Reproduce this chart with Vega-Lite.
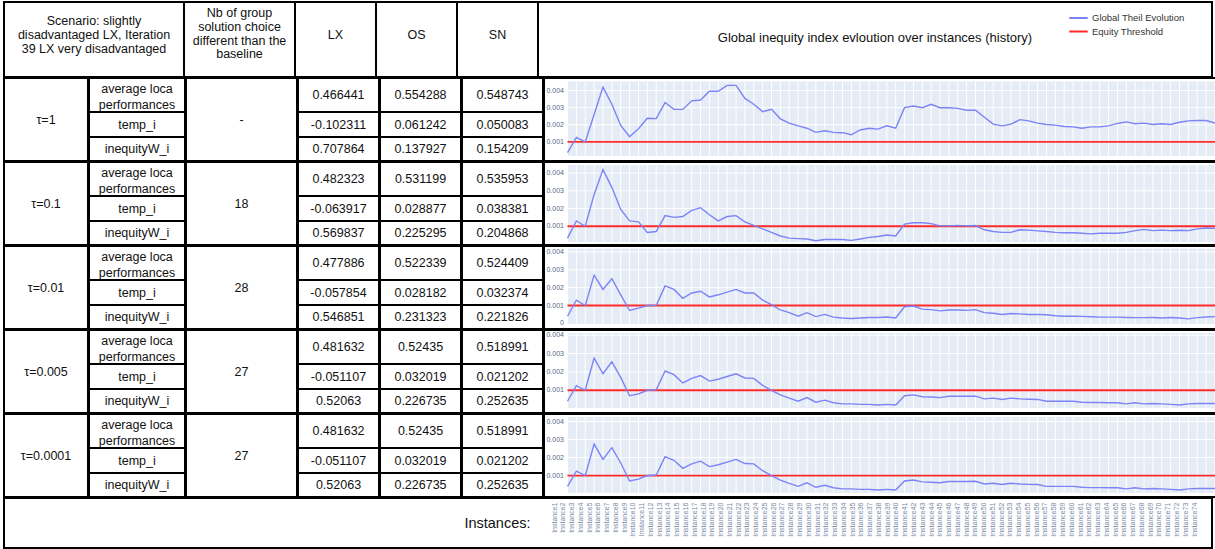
{
"$schema":"https://vega.github.io/schema/vega-lite/v6.json",
"padding":{"left":3,"top":1,"right":0,"bottom":0},
"spacing":-2,
"bounds":"full",
"config":{"view":{"stroke":"#000000","strokeWidth":2},"text":{"font":"Liberation Sans","fontSize":12.5,"color":"#111111"},"axis":{"labelFont":"Liberation Sans"}},
"datasets":{
"s":[
{"i":1,"a":0.00038,"b":0.00033,"c":0.0004,"d":0.0004,"e":0.0004},
{"i":2,"a":0.00127,"b":0.0013,"c":0.0013,"d":0.00125,"e":0.00125},
{"i":3,"a":0.001,"b":0.001,"c":0.001,"d":0.001,"e":0.001},
{"i":4,"a":0.0026,"b":0.0028,"c":0.0027,"d":0.00275,"e":0.00275},
{"i":5,"a":0.0042,"b":0.0042,"c":0.0019,"d":0.0019,"e":0.0019},
{"i":6,"a":0.0032,"b":0.0032,"c":0.0025,"d":0.00255,"e":0.00255},
{"i":7,"a":0.00196,"b":0.00195,"c":0.0016,"d":0.0017,"e":0.0017},
{"i":8,"a":0.0013,"b":0.0013,"c":0.00072,"d":0.0007,"e":0.0007},
{"i":9,"a":0.00177,"b":0.00125,"c":0.00085,"d":0.0008,"e":0.0008},
{"i":10,"a":0.00238,"b":0.00065,"c":0.001,"d":0.001,"e":0.001},
{"i":11,"a":0.00236,"b":0.0007,"c":0.001,"d":0.00103,"e":0.00103},
{"i":12,"a":0.0033,"b":0.0016,"c":0.0021,"d":0.00205,"e":0.00205},
{"i":13,"a":0.0029,"b":0.0015,"c":0.0019,"d":0.00185,"e":0.00185},
{"i":14,"a":0.0029,"b":0.00155,"c":0.0014,"d":0.0014,"e":0.0014},
{"i":15,"a":0.0034,"b":0.0019,"c":0.0017,"d":0.00165,"e":0.00165},
{"i":16,"a":0.00345,"b":0.00205,"c":0.0018,"d":0.0018,"e":0.0018},
{"i":17,"a":0.00396,"b":0.00165,"c":0.00148,"d":0.0015,"e":0.0015},
{"i":18,"a":0.00396,"b":0.0013,"c":0.0016,"d":0.0016,"e":0.0016},
{"i":19,"a":0.0043,"b":0.00155,"c":0.00175,"d":0.00175,"e":0.00175},
{"i":20,"a":0.0043,"b":0.0016,"c":0.0019,"d":0.0019,"e":0.0019},
{"i":21,"a":0.00354,"b":0.00125,"c":0.0017,"d":0.00167,"e":0.00167},
{"i":22,"a":0.0032,"b":0.00105,"c":0.0017,"d":0.00165,"e":0.00165},
{"i":23,"a":0.00277,"b":0.00085,"c":0.0013,"d":0.00127,"e":0.00127},
{"i":24,"a":0.0029,"b":0.00065,"c":0.00105,"d":0.001,"e":0.001},
{"i":25,"a":0.00235,"b":0.00045,"c":0.00075,"d":0.00075,"e":0.00075},
{"i":26,"a":0.0021,"b":0.00033,"c":0.0006,"d":0.00057,"e":0.00057},
{"i":27,"a":0.00194,"b":0.0003,"c":0.0004,"d":0.0004,"e":0.0004},
{"i":28,"a":0.0018,"b":0.00028,"c":0.0006,"d":0.0006,"e":0.0006},
{"i":29,"a":0.00156,"b":0.00018,"c":0.00038,"d":0.00035,"e":0.00035},
{"i":30,"a":0.00165,"b":0.00025,"c":0.0005,"d":0.00046,"e":0.00046},
{"i":31,"a":0.00156,"b":0.00025,"c":0.00035,"d":0.00032,"e":0.00032},
{"i":32,"a":0.00154,"b":0.00025,"c":0.0003,"d":0.00026,"e":0.00026},
{"i":33,"a":0.00142,"b":0.0002,"c":0.00027,"d":0.00026,"e":0.00026},
{"i":34,"a":0.0017,"b":0.00028,"c":0.0003,"d":0.00023,"e":0.00023},
{"i":35,"a":0.0018,"b":0.00037,"c":0.00033,"d":0.00023,"e":0.00023},
{"i":36,"a":0.00175,"b":0.00042,"c":0.00033,"d":0.0002,"e":0.0002},
{"i":37,"a":0.00194,"b":0.0005,"c":0.00036,"d":0.00023,"e":0.00023},
{"i":38,"a":0.0018,"b":0.00045,"c":0.0003,"d":0.0002,"e":0.0002},
{"i":39,"a":0.003,"b":0.00112,"c":0.00093,"d":0.0007,"e":0.0007},
{"i":40,"a":0.0031,"b":0.0012,"c":0.00097,"d":0.00075,"e":0.00075},
{"i":41,"a":0.003,"b":0.0012,"c":0.0008,"d":0.00065,"e":0.00065},
{"i":42,"a":0.0032,"b":0.00115,"c":0.00077,"d":0.00063,"e":0.00063},
{"i":43,"a":0.003,"b":0.00102,"c":0.0007,"d":0.0006,"e":0.0006},
{"i":44,"a":0.003,"b":0.00102,"c":0.00075,"d":0.00067,"e":0.00067},
{"i":45,"a":0.00296,"b":0.00105,"c":0.00075,"d":0.00067,"e":0.00067},
{"i":46,"a":0.00285,"b":0.00102,"c":0.00073,"d":0.00067,"e":0.00067},
{"i":47,"a":0.00285,"b":0.00104,"c":0.00077,"d":0.00068,"e":0.00068},
{"i":48,"a":0.00244,"b":0.0008,"c":0.0006,"d":0.00053,"e":0.00053},
{"i":49,"a":0.00204,"b":0.0007,"c":0.00057,"d":0.00057,"e":0.00057},
{"i":50,"a":0.00194,"b":0.00065,"c":0.0005,"d":0.0005,"e":0.0005},
{"i":51,"a":0.00204,"b":0.00065,"c":0.00055,"d":0.00057,"e":0.00057},
{"i":52,"a":0.0023,"b":0.0008,"c":0.00053,"d":0.00053,"e":0.00053},
{"i":53,"a":0.00223,"b":0.00078,"c":0.0005,"d":0.00051,"e":0.00051},
{"i":54,"a":0.0021,"b":0.00074,"c":0.0005,"d":0.0005,"e":0.0005},
{"i":55,"a":0.00202,"b":0.0007,"c":0.00048,"d":0.0004,"e":0.0004},
{"i":56,"a":0.00198,"b":0.00065,"c":0.00043,"d":0.0004,"e":0.0004},
{"i":57,"a":0.0019,"b":0.00063,"c":0.0004,"d":0.0004,"e":0.0004},
{"i":58,"a":0.00188,"b":0.00063,"c":0.0004,"d":0.0004,"e":0.0004},
{"i":59,"a":0.0018,"b":0.0006,"c":0.00039,"d":0.00035,"e":0.00035},
{"i":60,"a":0.00188,"b":0.00057,"c":0.00037,"d":0.00033,"e":0.00033},
{"i":61,"a":0.00188,"b":0.0006,"c":0.00035,"d":0.00033,"e":0.00033},
{"i":62,"a":0.00194,"b":0.0006,"c":0.00035,"d":0.00032,"e":0.00032},
{"i":63,"a":0.00208,"b":0.0006,"c":0.00035,"d":0.00032,"e":0.00032},
{"i":64,"a":0.00217,"b":0.00065,"c":0.00033,"d":0.00026,"e":0.00026},
{"i":65,"a":0.00206,"b":0.00075,"c":0.00032,"d":0.00032,"e":0.00032},
{"i":66,"a":0.0021,"b":0.00082,"c":0.00032,"d":0.00026,"e":0.00026},
{"i":67,"a":0.00202,"b":0.00075,"c":0.00033,"d":0.00028,"e":0.00028},
{"i":68,"a":0.00206,"b":0.00078,"c":0.0003,"d":0.00026,"e":0.00026},
{"i":69,"a":0.00202,"b":0.00075,"c":0.00033,"d":0.00023,"e":0.00023},
{"i":70,"a":0.00215,"b":0.00077,"c":0.0003,"d":0.0002,"e":0.0002},
{"i":71,"a":0.00223,"b":0.00075,"c":0.00025,"d":0.00026,"e":0.00026},
{"i":72,"a":0.00225,"b":0.00085,"c":0.00032,"d":0.00028,"e":0.00028},
{"i":73,"a":0.00225,"b":0.0009,"c":0.00036,"d":0.00028,"e":0.00028},
{"i":74,"a":0.0021,"b":0.00088,"c":0.00038,"d":0.00028,"e":0.00028}
],
"vals":[
{"g":1,"m":"a","c":"LX","v":"0.466441"},{"g":1,"m":"a","c":"OS","v":"0.554288"},{"g":1,"m":"a","c":"SN","v":"0.548743"},
{"g":1,"m":"t","c":"LX","v":"-0.102311"},{"g":1,"m":"t","c":"OS","v":"0.061242"},{"g":1,"m":"t","c":"SN","v":"0.050083"},
{"g":1,"m":"w","c":"LX","v":"0.707864"},{"g":1,"m":"w","c":"OS","v":"0.137927"},{"g":1,"m":"w","c":"SN","v":"0.154209"},
{"g":2,"m":"a","c":"LX","v":"0.482323"},{"g":2,"m":"a","c":"OS","v":"0.531199"},{"g":2,"m":"a","c":"SN","v":"0.535953"},
{"g":2,"m":"t","c":"LX","v":"-0.063917"},{"g":2,"m":"t","c":"OS","v":"0.028877"},{"g":2,"m":"t","c":"SN","v":"0.038381"},
{"g":2,"m":"w","c":"LX","v":"0.569837"},{"g":2,"m":"w","c":"OS","v":"0.225295"},{"g":2,"m":"w","c":"SN","v":"0.204868"},
{"g":3,"m":"a","c":"LX","v":"0.477886"},{"g":3,"m":"a","c":"OS","v":"0.522339"},{"g":3,"m":"a","c":"SN","v":"0.524409"},
{"g":3,"m":"t","c":"LX","v":"-0.057854"},{"g":3,"m":"t","c":"OS","v":"0.028182"},{"g":3,"m":"t","c":"SN","v":"0.032374"},
{"g":3,"m":"w","c":"LX","v":"0.546851"},{"g":3,"m":"w","c":"OS","v":"0.231323"},{"g":3,"m":"w","c":"SN","v":"0.221826"},
{"g":4,"m":"a","c":"LX","v":"0.481632"},{"g":4,"m":"a","c":"OS","v":"0.52435"},{"g":4,"m":"a","c":"SN","v":"0.518991"},
{"g":4,"m":"t","c":"LX","v":"-0.051107"},{"g":4,"m":"t","c":"OS","v":"0.032019"},{"g":4,"m":"t","c":"SN","v":"0.021202"},
{"g":4,"m":"w","c":"LX","v":"0.52063"},{"g":4,"m":"w","c":"OS","v":"0.226735"},{"g":4,"m":"w","c":"SN","v":"0.252635"},
{"g":5,"m":"a","c":"LX","v":"0.481632"},{"g":5,"m":"a","c":"OS","v":"0.52435"},{"g":5,"m":"a","c":"SN","v":"0.518991"},
{"g":5,"m":"t","c":"LX","v":"-0.051107"},{"g":5,"m":"t","c":"OS","v":"0.032019"},{"g":5,"m":"t","c":"SN","v":"0.021202"},
{"g":5,"m":"w","c":"LX","v":"0.52063"},{"g":5,"m":"w","c":"OS","v":"0.226735"},{"g":5,"m":"w","c":"SN","v":"0.252635"}
],
"yl":[{"g":0.001,"l":"0.001"},{"g":0.002,"l":"0.002"},{"g":0.003,"l":"0.003"},{"g":0.004,"l":"0.004"}],
"yl0":[{"g":0,"l":"0"},{"g":0.001,"l":"0.001"},{"g":0.002,"l":"0.002"},{"g":0.003,"l":"0.003"},{"g":0.004,"l":"0.004"}]
},
"vconcat":[
{"hconcat":[
{"width":180,"height":75,"view":{"stroke":"#000000","strokeWidth":2},"data":{"values":[{"t":["Scenario: slightly","disadvantaged LX, Iteration","39 LX very disadvantaged"]}]},"mark":{"type":"text","lineHeight":14,"dy":-18.5},"encoding":{"text":{"field":"t","type":"nominal"}}},
{"width":111,"height":75,"view":{"stroke":"#000000","strokeWidth":2},"data":{"values":[{"t":["Nb of group","solution choice","different than the","baseline"]}]},"mark":{"type":"text","lineHeight":13.7,"dy":-26.2},"encoding":{"text":{"field":"t","type":"nominal"}}},
{"width":81,"height":75,"view":{"stroke":"#000000","strokeWidth":2},"data":{"values":[{"t":"LX"}]},"mark":{"type":"text","dy":-4.5},"encoding":{"text":{"field":"t","type":"nominal"}}},
{"width":81,"height":75,"view":{"stroke":"#000000","strokeWidth":2},"data":{"values":[{"t":"OS"}]},"mark":{"type":"text","dy":-4.5},"encoding":{"text":{"field":"t","type":"nominal"}}},
{"width":81,"height":75,"view":{"stroke":"#000000","strokeWidth":2},"data":{"values":[{"t":"SN"}]},"mark":{"type":"text","dy":-4.5},"encoding":{"text":{"field":"t","type":"nominal"}}},
{"width":674,"height":75,"view":{"stroke":"#000000","strokeWidth":2},"data":{"values":[{"t":"Global inequity index evloution over instances (history)"}]},"mark":{"type":"text","fontSize":13,"dy":-2},"encoding":{"text":{"field":"t","type":"nominal"}}}
],"spacing":0,"bounds":"flush"},

{"hconcat":[
{"width":84,"height":83,"view":{"stroke":"#000000","strokeWidth":2},"data":{"values":[{"t":"τ=1"}]},"mark":"text","encoding":{"text":{"field":"t","type":"nominal"}}},
{"vconcat":[
{"width":96,"height":34,"view":{"stroke":"#000000","strokeWidth":2},"data":{"values":[{"t":["average loca","performances"]}]},"mark":{"type":"text","lineHeight":15.5,"dy":-5.7},"encoding":{"text":{"field":"t","type":"nominal"}}},
{"width":96,"height":25,"view":{"stroke":"#000000","strokeWidth":2},"data":{"values":[{"t":"temp_i"}]},"mark":"text","encoding":{"text":{"field":"t","type":"nominal"}}},
{"width":96,"height":24,"view":{"stroke":"#000000","strokeWidth":2},"data":{"values":[{"t":"inequityW_i"}]},"mark":"text","encoding":{"text":{"field":"t","type":"nominal"}}}
],"spacing":0,"bounds":"flush"},
{"width":111,"height":83,"view":{"stroke":"#000000","strokeWidth":2},"data":{"values":[{"t":"-"}]},"mark":"text","encoding":{"text":{"field":"t","type":"nominal"}}},
{"vconcat":[
{"width":81,"height":34,"view":{"stroke":"#000000","strokeWidth":2},"data":{"name":"vals"},"transform":[{"filter":"datum.g == 1 && datum.c == 'LX' && datum.m == 'a'"}],"mark":"text","encoding":{"text":{"field":"v","type":"nominal"}}},
{"width":81,"height":25,"view":{"stroke":"#000000","strokeWidth":2},"data":{"name":"vals"},"transform":[{"filter":"datum.g == 1 && datum.c == 'LX' && datum.m == 't'"}],"mark":"text","encoding":{"text":{"field":"v","type":"nominal"}}},
{"width":81,"height":24,"view":{"stroke":"#000000","strokeWidth":2},"data":{"name":"vals"},"transform":[{"filter":"datum.g == 1 && datum.c == 'LX' && datum.m == 'w'"}],"mark":"text","encoding":{"text":{"field":"v","type":"nominal"}}}
],"spacing":0,"bounds":"flush"},
{"vconcat":[
{"width":81,"height":34,"view":{"stroke":"#000000","strokeWidth":2},"data":{"name":"vals"},"transform":[{"filter":"datum.g == 1 && datum.c == 'OS' && datum.m == 'a'"}],"mark":"text","encoding":{"text":{"field":"v","type":"nominal"}}},
{"width":81,"height":25,"view":{"stroke":"#000000","strokeWidth":2},"data":{"name":"vals"},"transform":[{"filter":"datum.g == 1 && datum.c == 'OS' && datum.m == 't'"}],"mark":"text","encoding":{"text":{"field":"v","type":"nominal"}}},
{"width":81,"height":24,"view":{"stroke":"#000000","strokeWidth":2},"data":{"name":"vals"},"transform":[{"filter":"datum.g == 1 && datum.c == 'OS' && datum.m == 'w'"}],"mark":"text","encoding":{"text":{"field":"v","type":"nominal"}}}
],"spacing":0,"bounds":"flush"},
{"vconcat":[
{"width":81,"height":34,"view":{"stroke":"#000000","strokeWidth":2},"data":{"name":"vals"},"transform":[{"filter":"datum.g == 1 && datum.c == 'SN' && datum.m == 'a'"}],"mark":"text","encoding":{"text":{"field":"v","type":"nominal"}}},
{"width":81,"height":25,"view":{"stroke":"#000000","strokeWidth":2},"data":{"name":"vals"},"transform":[{"filter":"datum.g == 1 && datum.c == 'SN' && datum.m == 't'"}],"mark":"text","encoding":{"text":{"field":"v","type":"nominal"}}},
{"width":81,"height":24,"view":{"stroke":"#000000","strokeWidth":2},"data":{"name":"vals"},"transform":[{"filter":"datum.g == 1 && datum.c == 'SN' && datum.m == 'w'"}],"mark":"text","encoding":{"text":{"field":"v","type":"nominal"}}}
],"spacing":0,"bounds":"flush"},
{"width":674,"height":83,"view":{"stroke":"#000000","strokeWidth":2},"data":{"name":"s"},"layer":[
{"data":{"values":[{}]},"mark":{"type":"rect","color":"#e5ecf6"},"encoding":{"x":{"datum":1,"type":"quantitative","scale":{"domain":[-1.65,74.34],"nice":false,"zero":false},"axis":null},"x2":{"datum":74},"y":{"datum":0.00453,"type":"quantitative","scale":{"domain":[-0.000113,0.004733],"nice":false,"zero":false},"axis":null},"y2":{"datum":0.000175}}},
{"mark":{"type":"rule","color":"#ffffff","strokeWidth":1},"encoding":{"x":{"field":"i","type":"quantitative","axis":null},"y":{"datum":0.00453,"type":"quantitative","axis":null},"y2":{"datum":0.000175}}},
{"data":{"name":"yl"},"mark":{"type":"rule","color":"#ffffff","strokeWidth":1},"encoding":{"x":{"datum":1,"type":"quantitative","axis":null},"x2":{"datum":74},"y":{"field":"g","type":"quantitative","axis":null}}},
{"data":{"name":"yl"},"mark":{"type":"text","align":"right","baseline":"middle","fontSize":7,"color":"#53678a"},"encoding":{"x":{"datum":0.605,"type":"quantitative","axis":null},"y":{"field":"g","type":"quantitative","axis":null},"text":{"field":"l","type":"nominal"}}},
{"data":{"values":[{}]},"mark":{"type":"rule","strokeWidth":1.8},"encoding":{"x":{"datum":1,"type":"quantitative","axis":null},"x2":{"datum":74},"y":{"datum":0.001,"type":"quantitative","axis":null},"color":{"datum":"Equity Threshold","type":"nominal","scale":{"domain":["Global Theil Evolution","Equity Threshold"],"range":["#7b84f6","#ff2a2a"]},"legend":{"title":null,"orient":"none","legendX":1064,"legendY":9.5,"symbolType":"stroke","symbolSize":340,"symbolStrokeWidth":2,"clipHeight":13,"rowPadding":0.5,"labelFont":"Liberation Sans","labelFontSize":9.5,"labelColor":"#333333","labelOffset":3,"padding":0}}}},
{"mark":{"type":"line","strokeWidth":1.4},"encoding":{"x":{"field":"i","type":"quantitative","axis":null},"y":{"field":"a","type":"quantitative","axis":null},"color":{"datum":"Global Theil Evolution","type":"nominal","legend":{"title":null,"orient":"none","legendX":1064,"legendY":9.5,"symbolType":"stroke","symbolSize":340,"symbolStrokeWidth":2,"clipHeight":13,"rowPadding":0.5,"labelFont":"Liberation Sans","labelFontSize":9.5,"labelColor":"#333333","labelOffset":3,"padding":0}}}}
]}
],"spacing":-2,"bounds":"full"},

{"hconcat":[
{"width":84,"height":83,"view":{"stroke":"#000000","strokeWidth":2},"data":{"values":[{"t":"τ=0.1"}]},"mark":"text","encoding":{"text":{"field":"t","type":"nominal"}}},
{"vconcat":[
{"width":96,"height":34,"view":{"stroke":"#000000","strokeWidth":2},"data":{"values":[{"t":["average loca","performances"]}]},"mark":{"type":"text","lineHeight":15.5,"dy":-5.7},"encoding":{"text":{"field":"t","type":"nominal"}}},
{"width":96,"height":25,"view":{"stroke":"#000000","strokeWidth":2},"data":{"values":[{"t":"temp_i"}]},"mark":"text","encoding":{"text":{"field":"t","type":"nominal"}}},
{"width":96,"height":24,"view":{"stroke":"#000000","strokeWidth":2},"data":{"values":[{"t":"inequityW_i"}]},"mark":"text","encoding":{"text":{"field":"t","type":"nominal"}}}
],"spacing":0,"bounds":"flush"},
{"width":111,"height":83,"view":{"stroke":"#000000","strokeWidth":2},"data":{"values":[{"t":"18"}]},"mark":"text","encoding":{"text":{"field":"t","type":"nominal"}}},
{"vconcat":[
{"width":81,"height":34,"view":{"stroke":"#000000","strokeWidth":2},"data":{"name":"vals"},"transform":[{"filter":"datum.g == 2 && datum.c == 'LX' && datum.m == 'a'"}],"mark":"text","encoding":{"text":{"field":"v","type":"nominal"}}},
{"width":81,"height":25,"view":{"stroke":"#000000","strokeWidth":2},"data":{"name":"vals"},"transform":[{"filter":"datum.g == 2 && datum.c == 'LX' && datum.m == 't'"}],"mark":"text","encoding":{"text":{"field":"v","type":"nominal"}}},
{"width":81,"height":24,"view":{"stroke":"#000000","strokeWidth":2},"data":{"name":"vals"},"transform":[{"filter":"datum.g == 2 && datum.c == 'LX' && datum.m == 'w'"}],"mark":"text","encoding":{"text":{"field":"v","type":"nominal"}}}
],"spacing":0,"bounds":"flush"},
{"vconcat":[
{"width":81,"height":34,"view":{"stroke":"#000000","strokeWidth":2},"data":{"name":"vals"},"transform":[{"filter":"datum.g == 2 && datum.c == 'OS' && datum.m == 'a'"}],"mark":"text","encoding":{"text":{"field":"v","type":"nominal"}}},
{"width":81,"height":25,"view":{"stroke":"#000000","strokeWidth":2},"data":{"name":"vals"},"transform":[{"filter":"datum.g == 2 && datum.c == 'OS' && datum.m == 't'"}],"mark":"text","encoding":{"text":{"field":"v","type":"nominal"}}},
{"width":81,"height":24,"view":{"stroke":"#000000","strokeWidth":2},"data":{"name":"vals"},"transform":[{"filter":"datum.g == 2 && datum.c == 'OS' && datum.m == 'w'"}],"mark":"text","encoding":{"text":{"field":"v","type":"nominal"}}}
],"spacing":0,"bounds":"flush"},
{"vconcat":[
{"width":81,"height":34,"view":{"stroke":"#000000","strokeWidth":2},"data":{"name":"vals"},"transform":[{"filter":"datum.g == 2 && datum.c == 'SN' && datum.m == 'a'"}],"mark":"text","encoding":{"text":{"field":"v","type":"nominal"}}},
{"width":81,"height":25,"view":{"stroke":"#000000","strokeWidth":2},"data":{"name":"vals"},"transform":[{"filter":"datum.g == 2 && datum.c == 'SN' && datum.m == 't'"}],"mark":"text","encoding":{"text":{"field":"v","type":"nominal"}}},
{"width":81,"height":24,"view":{"stroke":"#000000","strokeWidth":2},"data":{"name":"vals"},"transform":[{"filter":"datum.g == 2 && datum.c == 'SN' && datum.m == 'w'"}],"mark":"text","encoding":{"text":{"field":"v","type":"nominal"}}}
],"spacing":0,"bounds":"flush"},
{"width":674,"height":83,"view":{"stroke":"#000000","strokeWidth":2},"data":{"name":"s"},"layer":[
{"data":{"values":[{}]},"mark":{"type":"rect","color":"#e5ecf6"},"encoding":{"x":{"datum":1,"type":"quantitative","scale":{"domain":[-1.65,74.34],"nice":false,"zero":false},"axis":null},"x2":{"datum":74},"y":{"datum":0.004464,"type":"quantitative","scale":{"domain":[-0.000061,0.004631],"nice":false,"zero":false},"axis":null},"y2":{"datum":0.000106}}},
{"mark":{"type":"rule","color":"#ffffff","strokeWidth":1},"encoding":{"x":{"field":"i","type":"quantitative","axis":null},"y":{"datum":0.004464,"type":"quantitative","axis":null},"y2":{"datum":0.000106}}},
{"data":{"name":"yl"},"mark":{"type":"rule","color":"#ffffff","strokeWidth":1},"encoding":{"x":{"datum":1,"type":"quantitative","axis":null},"x2":{"datum":74},"y":{"field":"g","type":"quantitative","axis":null}}},
{"data":{"name":"yl"},"mark":{"type":"text","align":"right","baseline":"middle","fontSize":7,"color":"#53678a"},"encoding":{"x":{"datum":0.605,"type":"quantitative","axis":null},"y":{"field":"g","type":"quantitative","axis":null},"text":{"field":"l","type":"nominal"}}},
{"data":{"values":[{}]},"mark":{"type":"rule","strokeWidth":1.8},"encoding":{"x":{"datum":1,"type":"quantitative","axis":null},"x2":{"datum":74},"y":{"datum":0.001,"type":"quantitative","axis":null},"color":{"datum":"Equity Threshold","type":"nominal"}}},
{"mark":{"type":"line","strokeWidth":1.4},"encoding":{"x":{"field":"i","type":"quantitative","axis":null},"y":{"field":"b","type":"quantitative","axis":null},"color":{"datum":"Global Theil Evolution","type":"nominal"}}}
]}
],"spacing":-2,"bounds":"full"},

{"hconcat":[
{"width":84,"height":83,"view":{"stroke":"#000000","strokeWidth":2},"data":{"values":[{"t":"τ=0.01"}]},"mark":"text","encoding":{"text":{"field":"t","type":"nominal"}}},
{"vconcat":[
{"width":96,"height":34,"view":{"stroke":"#000000","strokeWidth":2},"data":{"values":[{"t":["average loca","performances"]}]},"mark":{"type":"text","lineHeight":15.5,"dy":-5.7},"encoding":{"text":{"field":"t","type":"nominal"}}},
{"width":96,"height":25,"view":{"stroke":"#000000","strokeWidth":2},"data":{"values":[{"t":"temp_i"}]},"mark":"text","encoding":{"text":{"field":"t","type":"nominal"}}},
{"width":96,"height":24,"view":{"stroke":"#000000","strokeWidth":2},"data":{"values":[{"t":"inequityW_i"}]},"mark":"text","encoding":{"text":{"field":"t","type":"nominal"}}}
],"spacing":0,"bounds":"flush"},
{"width":111,"height":83,"view":{"stroke":"#000000","strokeWidth":2},"data":{"values":[{"t":"28"}]},"mark":"text","encoding":{"text":{"field":"t","type":"nominal"}}},
{"vconcat":[
{"width":81,"height":34,"view":{"stroke":"#000000","strokeWidth":2},"data":{"name":"vals"},"transform":[{"filter":"datum.g == 3 && datum.c == 'LX' && datum.m == 'a'"}],"mark":"text","encoding":{"text":{"field":"v","type":"nominal"}}},
{"width":81,"height":25,"view":{"stroke":"#000000","strokeWidth":2},"data":{"name":"vals"},"transform":[{"filter":"datum.g == 3 && datum.c == 'LX' && datum.m == 't'"}],"mark":"text","encoding":{"text":{"field":"v","type":"nominal"}}},
{"width":81,"height":24,"view":{"stroke":"#000000","strokeWidth":2},"data":{"name":"vals"},"transform":[{"filter":"datum.g == 3 && datum.c == 'LX' && datum.m == 'w'"}],"mark":"text","encoding":{"text":{"field":"v","type":"nominal"}}}
],"spacing":0,"bounds":"flush"},
{"vconcat":[
{"width":81,"height":34,"view":{"stroke":"#000000","strokeWidth":2},"data":{"name":"vals"},"transform":[{"filter":"datum.g == 3 && datum.c == 'OS' && datum.m == 'a'"}],"mark":"text","encoding":{"text":{"field":"v","type":"nominal"}}},
{"width":81,"height":25,"view":{"stroke":"#000000","strokeWidth":2},"data":{"name":"vals"},"transform":[{"filter":"datum.g == 3 && datum.c == 'OS' && datum.m == 't'"}],"mark":"text","encoding":{"text":{"field":"v","type":"nominal"}}},
{"width":81,"height":24,"view":{"stroke":"#000000","strokeWidth":2},"data":{"name":"vals"},"transform":[{"filter":"datum.g == 3 && datum.c == 'OS' && datum.m == 'w'"}],"mark":"text","encoding":{"text":{"field":"v","type":"nominal"}}}
],"spacing":0,"bounds":"flush"},
{"vconcat":[
{"width":81,"height":34,"view":{"stroke":"#000000","strokeWidth":2},"data":{"name":"vals"},"transform":[{"filter":"datum.g == 3 && datum.c == 'SN' && datum.m == 'a'"}],"mark":"text","encoding":{"text":{"field":"v","type":"nominal"}}},
{"width":81,"height":25,"view":{"stroke":"#000000","strokeWidth":2},"data":{"name":"vals"},"transform":[{"filter":"datum.g == 3 && datum.c == 'SN' && datum.m == 't'"}],"mark":"text","encoding":{"text":{"field":"v","type":"nominal"}}},
{"width":81,"height":24,"view":{"stroke":"#000000","strokeWidth":2},"data":{"name":"vals"},"transform":[{"filter":"datum.g == 3 && datum.c == 'SN' && datum.m == 'w'"}],"mark":"text","encoding":{"text":{"field":"v","type":"nominal"}}}
],"spacing":0,"bounds":"flush"},
{"width":674,"height":83,"view":{"stroke":"#000000","strokeWidth":2},"data":{"name":"s"},"layer":[
{"data":{"values":[{}]},"mark":{"type":"rect","color":"#e5ecf6"},"encoding":{"x":{"datum":1,"type":"quantitative","scale":{"domain":[-1.65,74.34],"nice":false,"zero":false},"axis":null},"x2":{"datum":74},"y":{"datum":0.00419,"type":"quantitative","scale":{"domain":[-0.000315,0.004332],"nice":false,"zero":false},"axis":null},"y2":{"datum":-0.00004}}},
{"mark":{"type":"rule","color":"#ffffff","strokeWidth":1},"encoding":{"x":{"field":"i","type":"quantitative","axis":null},"y":{"datum":0.00419,"type":"quantitative","axis":null},"y2":{"datum":-0.00004}}},
{"data":{"name":"yl"},"mark":{"type":"rule","color":"#ffffff","strokeWidth":1},"encoding":{"x":{"datum":1,"type":"quantitative","axis":null},"x2":{"datum":74},"y":{"field":"g","type":"quantitative","axis":null}}},
{"data":{"name":"yl0"},"mark":{"type":"text","align":"right","baseline":"middle","fontSize":7,"color":"#53678a"},"encoding":{"x":{"datum":0.605,"type":"quantitative","axis":null},"y":{"field":"g","type":"quantitative","axis":null},"text":{"field":"l","type":"nominal"}}},
{"data":{"values":[{}]},"mark":{"type":"rule","strokeWidth":1.8},"encoding":{"x":{"datum":1,"type":"quantitative","axis":null},"x2":{"datum":74},"y":{"datum":0.001,"type":"quantitative","axis":null},"color":{"datum":"Equity Threshold","type":"nominal"}}},
{"mark":{"type":"line","strokeWidth":1.4},"encoding":{"x":{"field":"i","type":"quantitative","axis":null},"y":{"field":"c","type":"quantitative","axis":null},"color":{"datum":"Global Theil Evolution","type":"nominal"}}}
]}
],"spacing":-2,"bounds":"full"},

{"hconcat":[
{"width":84,"height":83,"view":{"stroke":"#000000","strokeWidth":2},"data":{"values":[{"t":"τ=0.005"}]},"mark":"text","encoding":{"text":{"field":"t","type":"nominal"}}},
{"vconcat":[
{"width":96,"height":34,"view":{"stroke":"#000000","strokeWidth":2},"data":{"values":[{"t":["average loca","performances"]}]},"mark":{"type":"text","lineHeight":15.5,"dy":-5.7},"encoding":{"text":{"field":"t","type":"nominal"}}},
{"width":96,"height":25,"view":{"stroke":"#000000","strokeWidth":2},"data":{"values":[{"t":"temp_i"}]},"mark":"text","encoding":{"text":{"field":"t","type":"nominal"}}},
{"width":96,"height":24,"view":{"stroke":"#000000","strokeWidth":2},"data":{"values":[{"t":"inequityW_i"}]},"mark":"text","encoding":{"text":{"field":"t","type":"nominal"}}}
],"spacing":0,"bounds":"flush"},
{"width":111,"height":83,"view":{"stroke":"#000000","strokeWidth":2},"data":{"values":[{"t":"27"}]},"mark":"text","encoding":{"text":{"field":"t","type":"nominal"}}},
{"vconcat":[
{"width":81,"height":34,"view":{"stroke":"#000000","strokeWidth":2},"data":{"name":"vals"},"transform":[{"filter":"datum.g == 4 && datum.c == 'LX' && datum.m == 'a'"}],"mark":"text","encoding":{"text":{"field":"v","type":"nominal"}}},
{"width":81,"height":25,"view":{"stroke":"#000000","strokeWidth":2},"data":{"name":"vals"},"transform":[{"filter":"datum.g == 4 && datum.c == 'LX' && datum.m == 't'"}],"mark":"text","encoding":{"text":{"field":"v","type":"nominal"}}},
{"width":81,"height":24,"view":{"stroke":"#000000","strokeWidth":2},"data":{"name":"vals"},"transform":[{"filter":"datum.g == 4 && datum.c == 'LX' && datum.m == 'w'"}],"mark":"text","encoding":{"text":{"field":"v","type":"nominal"}}}
],"spacing":0,"bounds":"flush"},
{"vconcat":[
{"width":81,"height":34,"view":{"stroke":"#000000","strokeWidth":2},"data":{"name":"vals"},"transform":[{"filter":"datum.g == 4 && datum.c == 'OS' && datum.m == 'a'"}],"mark":"text","encoding":{"text":{"field":"v","type":"nominal"}}},
{"width":81,"height":25,"view":{"stroke":"#000000","strokeWidth":2},"data":{"name":"vals"},"transform":[{"filter":"datum.g == 4 && datum.c == 'OS' && datum.m == 't'"}],"mark":"text","encoding":{"text":{"field":"v","type":"nominal"}}},
{"width":81,"height":24,"view":{"stroke":"#000000","strokeWidth":2},"data":{"name":"vals"},"transform":[{"filter":"datum.g == 4 && datum.c == 'OS' && datum.m == 'w'"}],"mark":"text","encoding":{"text":{"field":"v","type":"nominal"}}}
],"spacing":0,"bounds":"flush"},
{"vconcat":[
{"width":81,"height":34,"view":{"stroke":"#000000","strokeWidth":2},"data":{"name":"vals"},"transform":[{"filter":"datum.g == 4 && datum.c == 'SN' && datum.m == 'a'"}],"mark":"text","encoding":{"text":{"field":"v","type":"nominal"}}},
{"width":81,"height":25,"view":{"stroke":"#000000","strokeWidth":2},"data":{"name":"vals"},"transform":[{"filter":"datum.g == 4 && datum.c == 'SN' && datum.m == 't'"}],"mark":"text","encoding":{"text":{"field":"v","type":"nominal"}}},
{"width":81,"height":24,"view":{"stroke":"#000000","strokeWidth":2},"data":{"name":"vals"},"transform":[{"filter":"datum.g == 4 && datum.c == 'SN' && datum.m == 'w'"}],"mark":"text","encoding":{"text":{"field":"v","type":"nominal"}}}
],"spacing":0,"bounds":"flush"},
{"width":674,"height":83,"view":{"stroke":"#000000","strokeWidth":2},"data":{"name":"s"},"layer":[
{"data":{"values":[{}]},"mark":{"type":"rect","color":"#e5ecf6"},"encoding":{"x":{"datum":1,"type":"quantitative","scale":{"domain":[-1.65,74.34],"nice":false,"zero":false},"axis":null},"x2":{"datum":74},"y":{"datum":0.00412,"type":"quantitative","scale":{"domain":[-0.00024,0.004286],"nice":false,"zero":false},"axis":null},"y2":{"datum":0.00003}}},
{"mark":{"type":"rule","color":"#ffffff","strokeWidth":1},"encoding":{"x":{"field":"i","type":"quantitative","axis":null},"y":{"datum":0.00412,"type":"quantitative","axis":null},"y2":{"datum":0.00003}}},
{"data":{"name":"yl"},"mark":{"type":"rule","color":"#ffffff","strokeWidth":1},"encoding":{"x":{"datum":1,"type":"quantitative","axis":null},"x2":{"datum":74},"y":{"field":"g","type":"quantitative","axis":null}}},
{"data":{"name":"yl"},"mark":{"type":"text","align":"right","baseline":"middle","fontSize":7,"color":"#53678a"},"encoding":{"x":{"datum":0.605,"type":"quantitative","axis":null},"y":{"field":"g","type":"quantitative","axis":null},"text":{"field":"l","type":"nominal"}}},
{"data":{"values":[{}]},"mark":{"type":"rule","strokeWidth":1.8},"encoding":{"x":{"datum":1,"type":"quantitative","axis":null},"x2":{"datum":74},"y":{"datum":0.001,"type":"quantitative","axis":null},"color":{"datum":"Equity Threshold","type":"nominal"}}},
{"mark":{"type":"line","strokeWidth":1.4},"encoding":{"x":{"field":"i","type":"quantitative","axis":null},"y":{"field":"d","type":"quantitative","axis":null},"color":{"datum":"Global Theil Evolution","type":"nominal"}}}
]}
],"spacing":-2,"bounds":"full"},

{"hconcat":[
{"width":84,"height":83,"view":{"stroke":"#000000","strokeWidth":2},"data":{"values":[{"t":"τ=0.0001"}]},"mark":"text","encoding":{"text":{"field":"t","type":"nominal"}}},
{"vconcat":[
{"width":96,"height":34,"view":{"stroke":"#000000","strokeWidth":2},"data":{"values":[{"t":["average loca","performances"]}]},"mark":{"type":"text","lineHeight":15.5,"dy":-5.7},"encoding":{"text":{"field":"t","type":"nominal"}}},
{"width":96,"height":25,"view":{"stroke":"#000000","strokeWidth":2},"data":{"values":[{"t":"temp_i"}]},"mark":"text","encoding":{"text":{"field":"t","type":"nominal"}}},
{"width":96,"height":24,"view":{"stroke":"#000000","strokeWidth":2},"data":{"values":[{"t":"inequityW_i"}]},"mark":"text","encoding":{"text":{"field":"t","type":"nominal"}}}
],"spacing":0,"bounds":"flush"},
{"width":111,"height":83,"view":{"stroke":"#000000","strokeWidth":2},"data":{"values":[{"t":"27"}]},"mark":"text","encoding":{"text":{"field":"t","type":"nominal"}}},
{"vconcat":[
{"width":81,"height":34,"view":{"stroke":"#000000","strokeWidth":2},"data":{"name":"vals"},"transform":[{"filter":"datum.g == 5 && datum.c == 'LX' && datum.m == 'a'"}],"mark":"text","encoding":{"text":{"field":"v","type":"nominal"}}},
{"width":81,"height":25,"view":{"stroke":"#000000","strokeWidth":2},"data":{"name":"vals"},"transform":[{"filter":"datum.g == 5 && datum.c == 'LX' && datum.m == 't'"}],"mark":"text","encoding":{"text":{"field":"v","type":"nominal"}}},
{"width":81,"height":24,"view":{"stroke":"#000000","strokeWidth":2},"data":{"name":"vals"},"transform":[{"filter":"datum.g == 5 && datum.c == 'LX' && datum.m == 'w'"}],"mark":"text","encoding":{"text":{"field":"v","type":"nominal"}}}
],"spacing":0,"bounds":"flush"},
{"vconcat":[
{"width":81,"height":34,"view":{"stroke":"#000000","strokeWidth":2},"data":{"name":"vals"},"transform":[{"filter":"datum.g == 5 && datum.c == 'OS' && datum.m == 'a'"}],"mark":"text","encoding":{"text":{"field":"v","type":"nominal"}}},
{"width":81,"height":25,"view":{"stroke":"#000000","strokeWidth":2},"data":{"name":"vals"},"transform":[{"filter":"datum.g == 5 && datum.c == 'OS' && datum.m == 't'"}],"mark":"text","encoding":{"text":{"field":"v","type":"nominal"}}},
{"width":81,"height":24,"view":{"stroke":"#000000","strokeWidth":2},"data":{"name":"vals"},"transform":[{"filter":"datum.g == 5 && datum.c == 'OS' && datum.m == 'w'"}],"mark":"text","encoding":{"text":{"field":"v","type":"nominal"}}}
],"spacing":0,"bounds":"flush"},
{"vconcat":[
{"width":81,"height":34,"view":{"stroke":"#000000","strokeWidth":2},"data":{"name":"vals"},"transform":[{"filter":"datum.g == 5 && datum.c == 'SN' && datum.m == 'a'"}],"mark":"text","encoding":{"text":{"field":"v","type":"nominal"}}},
{"width":81,"height":25,"view":{"stroke":"#000000","strokeWidth":2},"data":{"name":"vals"},"transform":[{"filter":"datum.g == 5 && datum.c == 'SN' && datum.m == 't'"}],"mark":"text","encoding":{"text":{"field":"v","type":"nominal"}}},
{"width":81,"height":24,"view":{"stroke":"#000000","strokeWidth":2},"data":{"name":"vals"},"transform":[{"filter":"datum.g == 5 && datum.c == 'SN' && datum.m == 'w'"}],"mark":"text","encoding":{"text":{"field":"v","type":"nominal"}}}
],"spacing":0,"bounds":"flush"},
{"width":674,"height":83,"view":{"stroke":"#000000","strokeWidth":2},"data":{"name":"s"},"layer":[
{"data":{"values":[{}]},"mark":{"type":"rect","color":"#e5ecf6"},"encoding":{"x":{"datum":1,"type":"quantitative","scale":{"domain":[-1.65,74.34],"nice":false,"zero":false},"axis":null},"x2":{"datum":74},"y":{"datum":0.00426,"type":"quantitative","scale":{"domain":[-0.000192,0.004423],"nice":false,"zero":false},"axis":null},"y2":{"datum":0.00003}}},
{"mark":{"type":"rule","color":"#ffffff","strokeWidth":1},"encoding":{"x":{"field":"i","type":"quantitative","axis":null},"y":{"datum":0.00426,"type":"quantitative","axis":null},"y2":{"datum":0.00003}}},
{"data":{"name":"yl"},"mark":{"type":"rule","color":"#ffffff","strokeWidth":1},"encoding":{"x":{"datum":1,"type":"quantitative","axis":null},"x2":{"datum":74},"y":{"field":"g","type":"quantitative","axis":null}}},
{"data":{"name":"yl"},"mark":{"type":"text","align":"right","baseline":"middle","fontSize":7,"color":"#53678a"},"encoding":{"x":{"datum":0.605,"type":"quantitative","axis":null},"y":{"field":"g","type":"quantitative","axis":null},"text":{"field":"l","type":"nominal"}}},
{"data":{"values":[{}]},"mark":{"type":"rule","strokeWidth":1.8},"encoding":{"x":{"datum":1,"type":"quantitative","axis":null},"x2":{"datum":74},"y":{"datum":0.001,"type":"quantitative","axis":null},"color":{"datum":"Equity Threshold","type":"nominal"}}},
{"mark":{"type":"line","strokeWidth":1.4},"encoding":{"x":{"field":"i","type":"quantitative","axis":null},"y":{"field":"e","type":"quantitative","axis":null},"color":{"datum":"Global Theil Evolution","type":"nominal"}}}
]}
],"spacing":-2,"bounds":"full"},

{"width":1208,"height":50,"view":{"stroke":"#000000","strokeWidth":2},"data":{"name":"s"},"mark":{"type":"point","opacity":0},"encoding":{"x":{"field":"i","type":"quantitative","scale":{"domain":[-61.735,76.05],"nice":false,"zero":false},"axis":{"orient":"top","tickCount":140,"labelExpr":"datum.value >= 1 && datum.value <= 74 ? 'Instance' + datum.value : ''","labelAngle":270,"labelAlign":"right","labelBaseline":"middle","labelPadding":-4,"ticks":false,"tickSize":0,"domain":false,"grid":false,"labelFontSize":7,"labelColor":"#7a8aa8","labelOverlap":false,"labelFlush":false,"labelBound":false,"title":"Instances:","titleX":526,"titleY":25,"titleAlign":"right","titleBaseline":"middle","titleAngle":0,"titleFontSize":14.5,"titleFontWeight":"normal","titleFont":"Liberation Sans","titleColor":"#111111"}}}}
]
}
